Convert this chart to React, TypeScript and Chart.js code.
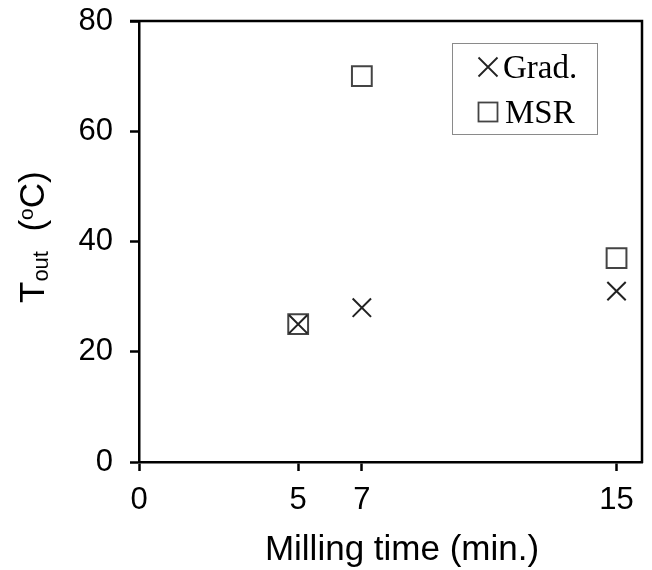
import React, { useEffect, useRef } from "react";
import { Chart, registerables } from "chart.js";

Chart.register(...registerables);

const xTicks = [0, 5, 7, 15];
const yTicks = [0, 20, 40, 60, 80];
const gradX = [5, 7, 15];
const gradY = [25, 28, 31];
const msrX = [5, 7, 15];
const msrY = [25, 70, 37];
const seriesLabels = ["Grad.", "MSR"];
const xTitle = "Milling time (min.)";
const yTitleParts = ["T", "out", "  (", "o", "C)"];

const SANS = "'Liberation Sans', Arial, sans-serif";
const SERIF = "'Liberation Serif', 'Times New Roman', serif";

const framePlugin = {
  id: "frame",
  afterDraw(chart: any) {
    const { ctx, chartArea } = chart;
    const { left, right, top, bottom } = chartArea;
    ctx.save();
    ctx.strokeStyle = "#000";
    ctx.lineWidth = 2.5;
    ctx.beginPath();
    ctx.moveTo(left - 9, top);
    ctx.lineTo(right, top);
    ctx.lineTo(right, bottom + 1);
    ctx.stroke();

    // x title
    ctx.fillStyle = "#000";
    ctx.font = `35px ${SANS}`;
    ctx.textAlign = "center";
    ctx.textBaseline = "alphabetic";
    ctx.fillText(xTitle, left + 263, 560);

    // y title with sub/superscripts
    ctx.translate(44, 303);
    ctx.rotate(-Math.PI / 2);
    ctx.textAlign = "left";
    let x = 0;
    const pieces = [
      { t: yTitleParts[0], size: 35, dy: 0 },
      { t: yTitleParts[1], size: 22, dy: 4 },
      { t: yTitleParts[2], size: 35, dy: 0 },
      { t: yTitleParts[3], size: 21, dy: -11 },
      { t: yTitleParts[4], size: 35, dy: 0 },
    ];
    for (const p of pieces) {
      ctx.font = `${p.size}px ${SANS}`;
      ctx.fillText(p.t, x, p.dy);
      x += ctx.measureText(p.t).width;
    }
    ctx.restore();

    // legend
    ctx.save();
    const lx = right - 190;
    const ly = top + 22;
    ctx.strokeStyle = "#8a8a8a";
    ctx.lineWidth = 1;
    ctx.strokeRect(lx + 0.5, ly + 0.5, 145, 91);
    chart.data.datasets.forEach((ds: any, i: number) => {
      const cx = lx + 36;
      const cy = ly + 24 + i * 45;
      const h = 9.5;
      ctx.strokeStyle = ds.borderColor;
      ctx.lineWidth = 1.8;
      ctx.beginPath();
      if (ds.pointStyle === "crossRot") {
        ctx.moveTo(cx - h, cy - h);
        ctx.lineTo(cx + h, cy + h);
        ctx.moveTo(cx + h, cy - h);
        ctx.lineTo(cx - h, cy + h);
        ctx.stroke();
      } else {
        ctx.strokeRect(cx - h, cy - h, 2 * h, 2 * h);
      }
      ctx.fillStyle = "#000";
      ctx.font = `33px ${SERIF}`;
      ctx.textBaseline = "alphabetic";
      ctx.fillText(ds.label, lx + 51 + i * 2, cy + 11);
    });
    ctx.restore();
  },
};

const zeroPad = (s: any) => {
  s.paddingTop = 0;
  s.paddingBottom = 0;
  s.paddingLeft = 0;
  s.paddingRight = 0;
};

export default function App() {
  const ref = useRef<HTMLCanvasElement>(null);
  useEffect(() => {
    document.body.style.margin = "0";
    const chart = new Chart(ref.current!, {
      type: "scatter",
      data: {
        datasets: [
          {
            label: seriesLabels[0],
            data: gradX.map((x, i) => ({ x, y: gradY[i] })),
            pointStyle: "crossRot",
            radius: 13,
            borderColor: "#222",
            backgroundColor: "transparent",
            borderWidth: 2,
          },
          {
            label: seriesLabels[1],
            data: msrX.map((x, i) => ({ x, y: msrY[i] })),
            pointStyle: "rect",
            radius: 14,
            borderColor: "#444",
            backgroundColor: "transparent",
            borderWidth: 2,
          },
        ],
      },
      options: {
        animation: false,
        responsive: false,
        layout: { autoPadding: false, padding: { top: 21, right: 10, left: 0, bottom: 0 } },
        plugins: { legend: { display: false }, tooltip: { enabled: false } },
        scales: {
          x: {
            type: "linear",
            min: 0,
            max: 15.8,
            afterBuildTicks: (s: any) => {
              s.ticks = xTicks.map((v) => ({ value: v }));
            },
            afterFit: (s: any) => {
              s.height = 108;
              zeroPad(s);
            },
            grid: {
              drawOnChartArea: false,
              drawTicks: true,
              tickLength: 9,
              tickColor: "#000",
              tickWidth: 2.5,
            },
            border: { display: true, color: "#000", width: 2.5 },
            ticks: {
              color: "#000",
              font: { family: SANS, size: 31 },
              padding: 11,
              maxRotation: 0,
            },
          },
          y: {
            type: "linear",
            min: 0,
            max: 80,
            afterBuildTicks: (s: any) => {
              s.ticks = yTicks.map((v) => ({ value: v }));
            },
            afterFit: (s: any) => {
              s.width = 139;
              zeroPad(s);
            },
            grid: {
              drawOnChartArea: false,
              drawTicks: true,
              tickLength: 9,
              tickColor: "#000",
              tickWidth: 2.5,
            },
            border: { display: true, color: "#000", width: 2.5 },
            ticks: {
              color: "#000",
              font: { family: SANS, size: 31 },
              padding: 17,
            },
          },
        },
      },
      plugins: [framePlugin],
    } as any);
    return () => chart.destroy();
  }, []);
  return <canvas ref={ref} width={652} height={570} />;
}
